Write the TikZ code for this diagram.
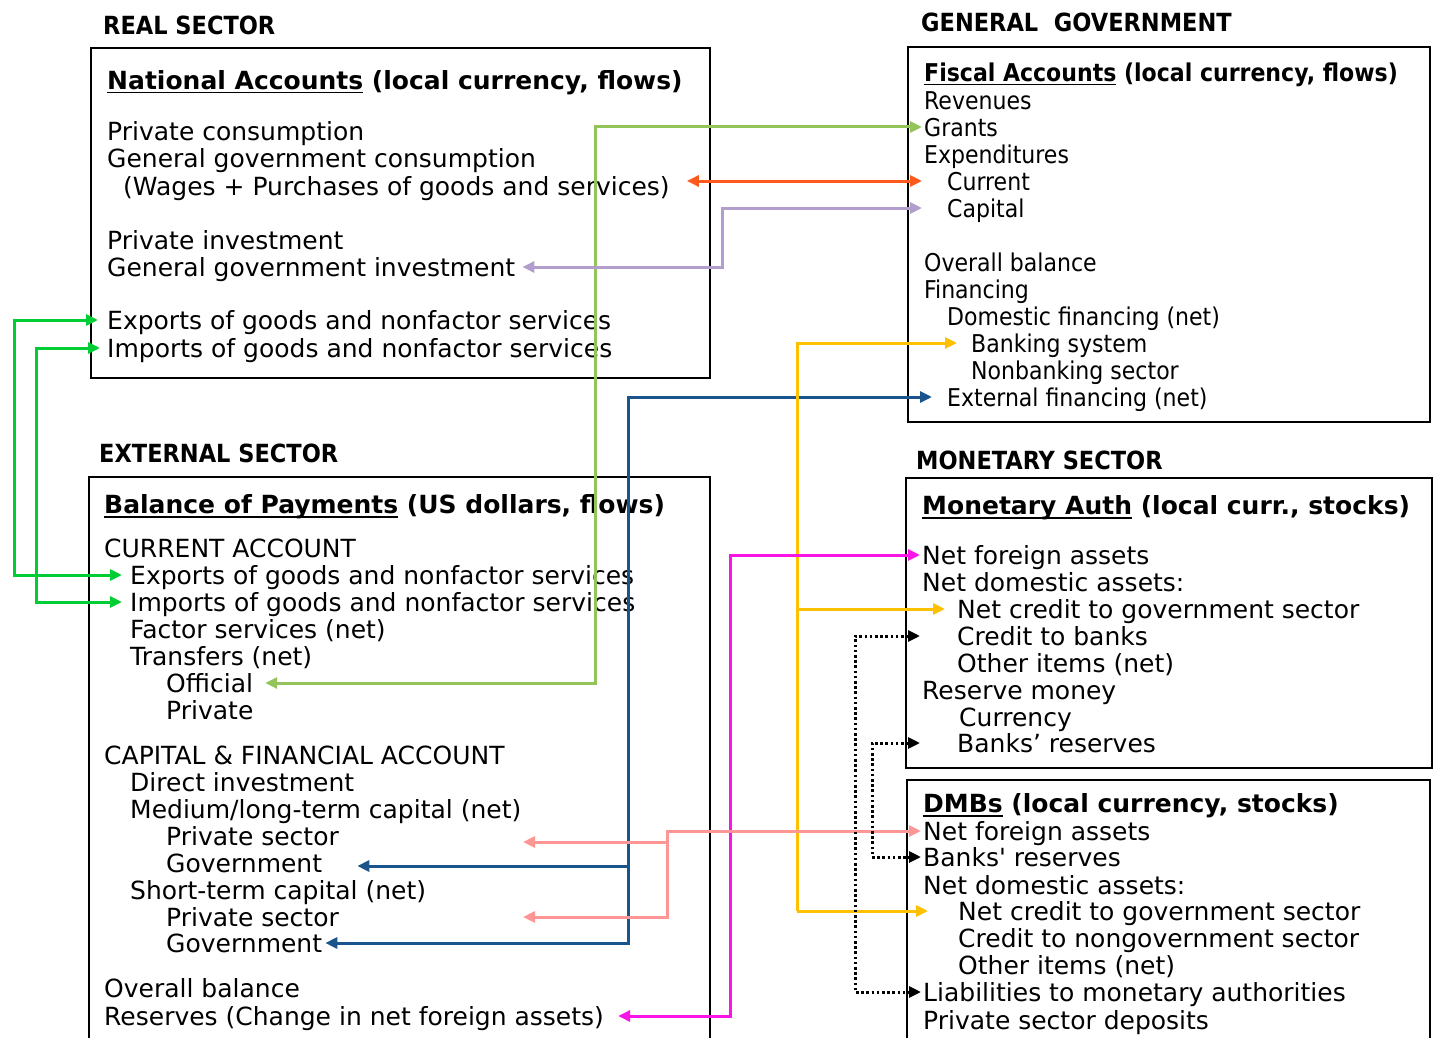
\documentclass[tikz,border=0pt]{standalone}
\usepackage{fontspec}
\setmainfont{DejaVu Sans}
\newfontfamily\tahoma{DejaVu Sans Condensed}
\usetikzlibrary{arrows.meta}
\definecolor{exgreen}{RGB}{0,204,51}
\definecolor{grantgreen}{RGB}{146,196,90}
\definecolor{wageorange}{RGB}{255,90,30}
\definecolor{caplav}{RGB}{178,158,204}
\definecolor{extblue}{RGB}{25,85,140}
\definecolor{bankgold}{RGB}{255,192,0}
\definecolor{nfamag}{RGB}{250,20,230}
\definecolor{dmbpink}{RGB}{255,150,150}
\def\titleul#1{\setbox0\hbox{#1}\rlap{\rule[-4pt]{\wd0}{1.8pt}}\box0\relax}
\tikzset{
  sectorhead/.style={anchor=west, inner sep=0pt, text height=18pt, text depth=0pt, font=\tahoma\bfseries\fontsize{25}{28}\selectfont},
  acctbox/.style={line width=1.7pt},
  boxtitle/.style={anchor=west, inner sep=0pt, text height=24pt, text depth=5pt, font=\bfseries\fontsize{25}{27}\selectfont},
  lineitem/.style={anchor=west, inner sep=0pt, text height=24pt, text depth=5pt, font=\fontsize{25}{27}\selectfont},
  fisctitle/.style={boxtitle, font=\tahoma\bfseries\fontsize{24.5}{27}\selectfont},
  fiscline/.style={lineitem, font=\tahoma\fontsize{24.5}{27}\selectfont},
  flowline/.style={line width=3pt, {Triangle[length=12pt,width=11pt]}-{Triangle[length=12pt,width=11pt]}},
  flowto/.style={line width=3pt, -{Triangle[length=12pt,width=11pt]}},
  dotline/.style={flowline, dash pattern=on 2.6pt off 2.6pt},
}
\begin{document}
\begin{tikzpicture}[x=1pt, y=-1pt]
		%%%%% START %%%%%
		\useasboundingbox (0,0) rectangle (1435,1038);
		
		% sector headings
		\node[sectorhead] (realhd) at (103,26) {REAL SECTOR};
		\node[sectorhead] (govhd) at (921,23) {GENERAL\ \ GOVERNMENT};
		\node[sectorhead] (exthd) at (99,453) {EXTERNAL SECTOR};
		\node[sectorhead] (monhd) at (916,460) {MONETARY SECTOR};
		
		% account boxes
		\draw[acctbox] (91,48) rectangle (710,378);
		\draw[acctbox] (908,47) rectangle (1430,422);
		\draw[acctbox] (89,1038) -- (89,477) -- (710,477) -- (710,1038);
		\draw[acctbox] (906,478) rectangle (1432,768);
		\draw[acctbox] (907,1038) -- (907,780) -- (1430,780) -- (1430,1038);
		
		% national accounts
		\node[boxtitle] (nattl) at (107,80) {\titleul{National Accounts} (local currency, flows)};
		\node[lineitem] (natpc) at (107,131) {Private consumption};
		\node[lineitem] (natgc) at (107,158) {General government consumption};
		\node[lineitem] (wages) at (123,186) {(Wages + Purchases of goods and services)};
		\node[lineitem] (natpi) at (107,240) {Private investment};
		\node[lineitem] (gginv) at (107,267) {General government investment};
		\node[lineitem] (natexp) at (107,320) {Exports of goods and nonfactor services};
		\node[lineitem] (natimp) at (107,348) {Imports of goods and nonfactor services};
		
		% fiscal accounts
		\node[fisctitle] (fisctl) at (924,72) {\titleul{Fiscal Accounts} (local currency, flows)};
		\node[fiscline] (revenues) at (924,100) {Revenues};
		\node[fiscline] (grants) at (924,127) {Grants};
		\node[fiscline] (expend) at (924,154) {Expenditures};
		\node[fiscline] (current) at (947,181) {Current};
		\node[fiscline] (capital) at (947,208) {Capital};
		\node[fiscline] (fiscob) at (924,262) {Overall balance};
		\node[fiscline] (financing) at (924,289) {Financing};
		\node[fiscline] (domfin) at (947,316) {Domestic financing (net)};
		\node[fiscline] (banking) at (971,343) {Banking system};
		\node[fiscline] (nonbank) at (971,370) {Nonbanking sector};
		\node[fiscline] (external) at (947,397) {External financing (net)};
		
		% balance of payments
		\node[boxtitle] (boptl) at (104,504) {\titleul{Balance of Payments} (US dollars, flows)};
		\node[lineitem] (curacc) at (104,548) {CURRENT ACCOUNT};
		\node[lineitem] (bopexp) at (130,575) {Exports of goods and nonfactor services};
		\node[lineitem] (bopimp) at (130,602) {Imports of goods and nonfactor services};
		\node[lineitem] (factor) at (130,629) {Factor services (net)};
		\node[lineitem] (transf) at (130,656) {Transfers (net)};
		\node[lineitem] (official) at (166,683) {Official};
		\node[lineitem] (privtr) at (166,710) {Private};
		\node[lineitem] (capacc) at (104,755) {CAPITAL \& FINANCIAL ACCOUNT};
		\node[lineitem] (direct) at (130,782) {Direct investment};
		\node[lineitem] (medlong) at (130,809) {Medium/long-term capital (net)};
		\node[lineitem] (privml) at (166,836) {Private sector};
		\node[lineitem] (govml) at (166,863) {Government};
		\node[lineitem] (shortt) at (130,890) {Short-term capital (net)};
		\node[lineitem] (privst) at (166,917) {Private sector};
		\node[lineitem] (govst) at (166,943) {Government};
		\node[lineitem] (bopob) at (104,988) {Overall balance};
		\node[lineitem] (reserves) at (104,1016) {Reserves (Change in net foreign assets)};
		
		% monetary authorities
		\node[boxtitle] (matl) at (922,505) {\titleul{Monetary Auth} (local curr., stocks)};
		\node[lineitem] (manfa) at (922,555) {Net foreign assets};
		\node[lineitem] (manda) at (922,582) {Net domestic assets:};
		\node[lineitem] (macred) at (957,609) {Net credit to government sector};
		\node[lineitem] (credbanks) at (957,636) {Credit to banks};
		\node[lineitem] (maoth) at (957,663) {Other items (net)};
		\node[lineitem] (resmoney) at (922,690) {Reserve money};
		\node[lineitem] (currency) at (959,717) {Currency};
		\node[lineitem] (mabres) at (957,743) {Banks’ reserves};
		
		% deposit money banks
		\node[boxtitle] (dmbtl) at (923,803) {\titleul{DMBs} (local currency, stocks)};
		\node[lineitem] (dmbnfa) at (923,831) {Net foreign assets};
		\node[lineitem] (dmbbres) at (923,857) {Banks\textquotesingle{} reserves};
		\node[lineitem] (dmbnda) at (923,885) {Net domestic assets:};
		\node[lineitem] (dmbcred) at (958,911) {Net credit to government sector};
		\node[lineitem] (dmbngov) at (958,938) {Credit to nongovernment sector};
		\node[lineitem] (dmboth) at (958,965) {Other items (net)};
		\node[lineitem] (liab) at (923,992) {Liabilities to monetary authorities};
		\node[lineitem] (deposits) at (923,1020) {Private sector deposits};
		
		% bus lines
		\coordinate (busA) at (14,0);
		\coordinate (busB) at (36,0);
		\coordinate (busC) at (595,0);
		\coordinate (busE) at (722,0);
		\coordinate (busF) at (628,0);
		\coordinate (busG) at (797,0);
		\coordinate (busH) at (730,0);
		\coordinate (busI) at (667,0);
		\coordinate (busJ) at (855,0);
		\coordinate (busK) at (872,0);
		\coordinate (fiscL) at (922,0);
		\coordinate (maL) at (920,0);
		\coordinate (pinkL) at (523,0);
		
		% flows
		\draw[flowline, exgreen] ([xshift=-9pt]natexp.west) -- (natexp.west -| busA) |- ([xshift=-8pt]bopexp.west);
		\draw[flowline, exgreen] ([xshift=-7pt]natimp.west) -- (natimp.west -| busB) |- ([xshift=-8pt]bopimp.west);
		\draw[flowline, grantgreen] ([xshift=12pt]official.east) -- (official.east -| busC) |- (grants.west -| fiscL);
		\draw[flowline, wageorange] ([xshift=17pt]wages.east |- current.west) -- (current.west -| fiscL);
		\draw[flowline, caplav] ([xshift=7pt]gginv.east) -- (gginv.east -| busE) |- (capital.west -| fiscL);
		
		\draw[flowline, extblue] ([xshift=3pt]govst.east) -- (govst.east -| busF) |- ([xshift=-15pt]external.west);
		\draw[flowto, extblue] ([yshift=-3pt]govml.west -| busF) -- ([yshift=-3pt,xshift=35pt]govml.east);
		
		\draw[flowto, bankgold] (dmbcred.west -| busG) |- ([xshift=-14pt]banking.west);
		\draw[flowto, bankgold] (macred.west -| busG) -- ([xshift=-12pt]macred.west);
		\draw[flowto, bankgold] (dmbcred.west -| busG) -- ([xshift=-30pt]dmbcred.west);
		
		\draw[flowline, nfamag] ([xshift=14pt]reserves.east) -- (reserves.east -| busH) |- ([xshift=-2pt]manfa.west);
		
		\draw[flowline, dmbpink] ([yshift=-6pt]privml.west -| pinkL) -- ([yshift=-6pt]privml.west -| busI) |- ([xshift=-2pt]dmbnfa.west);
		\draw[flowto, dmbpink] ([yshift=-6pt]privml.west -| busI) |- (privst.west -| pinkL);
		
		\draw[dotline] (credbanks.west -| maL) -- (credbanks.west -| busJ) |- ([xshift=-2pt]liab.west);
		\draw[dotline] (mabres.west -| maL) -- (mabres.west -| busK) |- ([xshift=-2pt]dmbbres.west);
		
		%%%%% END %%%%%
	\end{tikzpicture}
\end{document}
